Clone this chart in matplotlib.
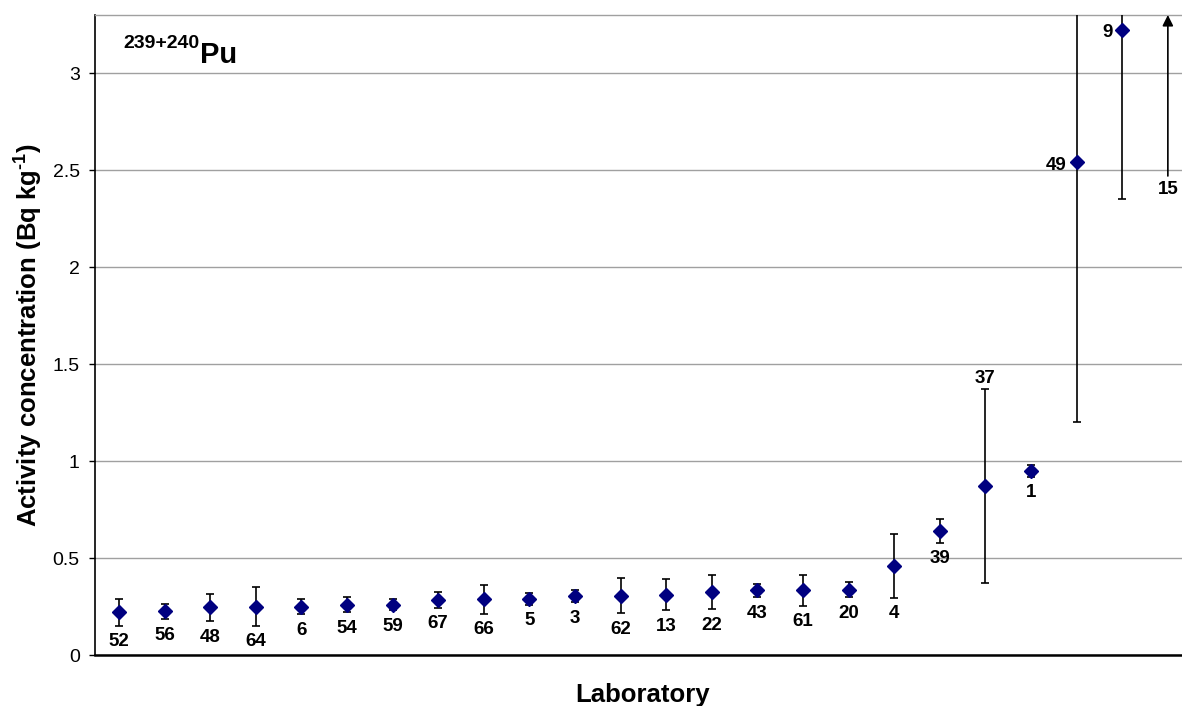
import numpy as np
import matplotlib
matplotlib.use("Agg")
import matplotlib.pyplot as plt

plt.rcParams['font.family'] = ['Liberation Sans', 'DejaVu Sans']
plt.rcParams['mathtext.fontset'] = 'custom'
plt.rcParams['mathtext.bf'] = 'Liberation Sans:bold'
plt.rcParams['mathtext.rm'] = 'Liberation Sans'

# Laboratory codes, ordered by reported activity
labs = ['52', '56', '48', '64', '6', '54', '59', '67', '66', '5', '3', '62',
        '13', '22', '43', '61', '20', '4', '39', '37', '1', '49', '9', '15']
# Reported 239+240Pu activity concentration (Bq/kg); lab 15 lies off scale
values = [0.22, 0.225, 0.245, 0.25, 0.25, 0.26, 0.26, 0.283, 0.288, 0.29, 0.303, 0.305,
          0.31, 0.325, 0.333, 0.333, 0.337, 0.46, 0.64, 0.87, 0.95, 2.54, 3.225, np.nan]
# Reported uncertainties
errs = [0.07, 0.04, 0.072, 0.10, 0.04, 0.04, 0.03, 0.04, 0.075, 0.03, 0.03, 0.09,
        0.08, 0.09, 0.035, 0.08, 0.04, 0.165, 0.06, 0.50, 0.03, 1.34, 0.875, np.nan]
# Lower bound of the off-scale result
offscale_lab = '15'
offscale_from = 2.47
# Where each laboratory code is written relative to its point
label_side = ['below'] * 19 + ['above', 'below', 'left', 'left', 'below']

W, H = 1182, 706
fig = plt.figure(figsize=(W / 100, H / 100), dpi=100)
ax = fig.add_axes([95 / W, 51 / H, (W - 95) / W, 640 / H])

x = np.arange(1, len(labs) + 1)
ax.errorbar(x, values, yerr=errs, fmt='none', ecolor='black', elinewidth=1.2,
            capsize=3, capthick=1.2, zorder=3)
ax.plot(x, values, linestyle='none', marker='D', markersize=6.8,
        color='#000080', zorder=4)

# Off-scale result shown as an upward arrow
i15 = labs.index(offscale_lab)
ax.annotate('', xy=(x[i15], 3.3), xytext=(x[i15], offscale_from),
            arrowprops=dict(arrowstyle='-|>', color='black', lw=1.2,
                            mutation_scale=16, shrinkA=0, shrinkB=0),
            zorder=4)

for xi, v, e, lab, side in zip(x, values, errs, labs, label_side):
    kw = dict(fontsize=13.5, fontweight='bold', textcoords='offset points')
    if lab == offscale_lab:
        ax.annotate(lab, (xi, offscale_from), xytext=(0, -10), ha='center', va='center', **kw)
    elif side == 'below':
        ax.annotate(lab, (xi, v - e), xytext=(0, -11.5), ha='center', va='center', **kw)
    elif side == 'above':
        ax.annotate(lab, (xi, v + e), xytext=(0, 8), ha='center', va='center', **kw)
    else:
        ax.annotate(lab, (xi, v), xytext=(-7, -2), ha='right', va='center', **kw)

ax.set_xlim(0.474, 24.31)
ax.set_ylim(0, 3.3)
ax.set_yticks(np.arange(0, 3.01, 0.5))
ax.set_yticklabels(['0', '0.5', '1', '1.5', '2', '2.5', '3'])
ax.set_xticks([])
ax.yaxis.grid(True, color='#a0a0a0', linewidth=1.0)
ax.set_axisbelow(True)
ax.tick_params(axis='y', direction='out', length=4, width=1, pad=7,
               labelsize=14, colors='black')

ax.spines['right'].set_visible(False)
ax.spines['top'].set_color('#a0a0a0')
ax.spines['top'].set_linewidth(1.0)
ax.spines['left'].set_linewidth(1.2)
ax.spines['bottom'].set_linewidth(1.8)

ax.set_ylabel('Activity concentration (Bq kg$^{\\mathbf{\u20101}}$)', fontsize=18.5,
              fontweight='bold')
ax.yaxis.set_label_coords(-0.047, 0.5)

fig.text(643 / W, 1 - 702 / H, 'Laboratory', fontsize=18.5, fontweight='bold',
         ha='center', va='baseline')

# Nuclide label
fig.text(123 / W, 1 - 48 / H, '239+240', fontsize=14, fontweight='bold',
         ha='left', va='baseline')
fig.text(200 / W, 1 - 63 / H, 'Pu', fontsize=21, fontweight='bold',
         ha='left', va='baseline')

fig.savefig('out.png', dpi=100)
